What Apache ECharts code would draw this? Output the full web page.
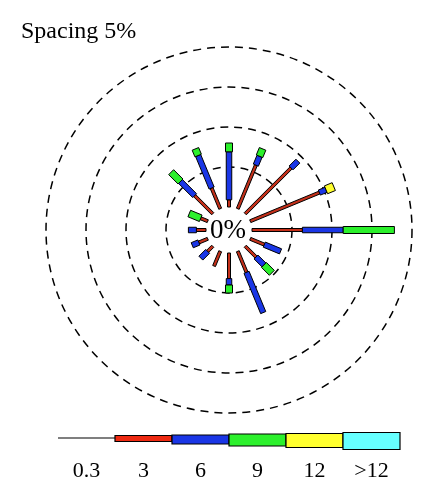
<!DOCTYPE html>
<html><head><meta charset="utf-8">
<script src="https://cdn.jsdelivr.net/npm/echarts@6/dist/echarts.min.js"></script>
<style>html,body{margin:0;padding:0;background:#fff}#c{width:436px;height:500px}</style>
</head><body><div id="c"></div>
<script>
// Wind directions (clockwise from North)
const directions = ['N','NNE','NE','ENE','E','ESE','SE','SSE','S','SSW','SW','WSW','W','WNW','NW','NNW'];
// Frequency (%) per speed bin for each direction
const bin3  = [0.9, 5.9, 8.1, 9.35, 6.3, 1.9, 1.9, 2.85, 3.2, 2.0, 0.9, 1.2, 1.2, 0.95, 3.2, 2.8];
const bin6  = [6.0, 1.2, 1.2, 0.9, 5.1, 2.2, 1.4, 5.45, 0.8, 0, 1.2, 0.9, 1.0, 0, 2.5, 4.4];
const bin9  = [1.1, 1.0, 0, 0, 6.4, 0, 1.4, 0, 1.0, 0, 0, 0, 0, 1.55, 1.65, 0.9];
const bin12 = [0, 0, 0, 1.05, 0, 0, 0, 0, 0, 0, 0, 0, 0, 0, 0, 0];
const binGt12 = [0, 0, 0, 0, 0, 0, 0, 0, 0, 0, 0, 0, 0, 0, 0, 0];
const legendLabels = ['0.3', '3', '6', '9', '12', '>12'];
const radiusTicks = [0, 5, 10, 15, 20];
const titleText = 'Spacing 5%';
const centerText = '0%';

const bins = [bin3, bin6, bin9, bin12, binGt12];
const colors = ['#ee2a12', '#1a36e6', '#2cf02c', '#ffff2e', '#66ffff'];
const spokeColors = ['#c4301a', '#1a36e6', '#2cf02c', '#ffff2e', '#66ffff'];
const widths = [3, 5.5, 7, 8.5, 10];
const legendH = [6, 9, 12, 14, 17];
const legendTop = [435.5, 435, 434, 433.5, 432.5];

const FONT = '"Liberation Serif", "Times New Roman", serif';
const cx = 229, cy = 230;

// stacked start / end per bin
const cum = directions.map(() => 0);
const series = bins.map((vals, b) => {
  const data = [];
  vals.forEach((v, i) => {
    if (v > 0) { data.push([cum[i], cum[i] + v, i]); cum[i] += v; }
  });
  return {
    type: 'custom', coordinateSystem: 'polar', data: data,
    encode: { radius: [0, 1], angle: 2 }, silent: true,
    renderItem: function (params, api) {
      const r0 = api.value(0), r1 = api.value(1), a = api.value(2);
      const p0 = api.coord([r0, a]), p1 = api.coord([r1, a]);
      const dx = p1[0] - p0[0], dy = p1[1] - p0[1];
      const len = Math.sqrt(dx * dx + dy * dy) || 1;
      const nx = -dy / len * widths[b] / 2, ny = dx / len * widths[b] / 2;
      return {
        type: 'polygon',
        shape: { points: [[p0[0] + nx, p0[1] + ny], [p1[0] + nx, p1[1] + ny], [p1[0] - nx, p1[1] - ny], [p0[0] - nx, p0[1] - ny]] },
        style: { fill: spokeColors[b], stroke: '#000', lineWidth: 1 }
      };
    }
  };
});

// legend graphics
const lx0 = 58, segW = 57;
const graphic = [
  { type: 'text', x: cx - 1, y: cy + 1, style: { text: centerText, textAlign: 'center', textVerticalAlign: 'middle', font: '27px ' + FONT, fill: '#000' } },
  { type: 'line', shape: { x1: lx0, y1: 438, x2: lx0 + segW, y2: 438 }, style: { stroke: '#000', lineWidth: 1.2 } }
];
colors.forEach((c, k) => {
  graphic.push({ type: 'rect', shape: { x: lx0 + segW * (k + 1), y: legendTop[k], width: segW, height: legendH[k] }, style: { fill: c, stroke: '#000', lineWidth: 1.2 } });
});
legendLabels.forEach((t, k) => {
  graphic.push({ type: 'text', x: lx0 + segW * k + segW / 2, y: 471, style: { text: t, textAlign: 'center', textVerticalAlign: 'middle', font: '22px ' + FONT, fill: '#000' } });
});

const chart = echarts.init(document.getElementById('c'), null, { renderer: 'canvas' });
chart.setOption({
  animation: false,
  backgroundColor: '#fff',
  title: { text: titleText, left: 21, top: 20, padding: 0, textStyle: { fontFamily: FONT, fontSize: 24, fontWeight: 'normal', color: '#000' } },
  polar: { center: [cx, cy], radius: [23, 183] },
  angleAxis: {
    type: 'category', data: directions, boundaryGap: true, startAngle: 90 + 180 / directions.length, clockwise: true,
    axisLine: { show: false }, axisTick: { show: false }, axisLabel: { show: false }, splitLine: { show: false }
  },
  radiusAxis: {
    type: 'value', min: radiusTicks[0], max: radiusTicks[radiusTicks.length - 1], interval: radiusTicks[1] - radiusTicks[0],
    axisLine: { show: false }, axisTick: { show: false }, axisLabel: { show: false },
    splitLine: { show: true, lineStyle: { color: ['rgba(0,0,0,0)', '#000', '#000', '#000', '#000'], type: [8, 6], width: 1.5 } }
  },
  series: series,
  graphic: graphic
});
</script></body></html>
